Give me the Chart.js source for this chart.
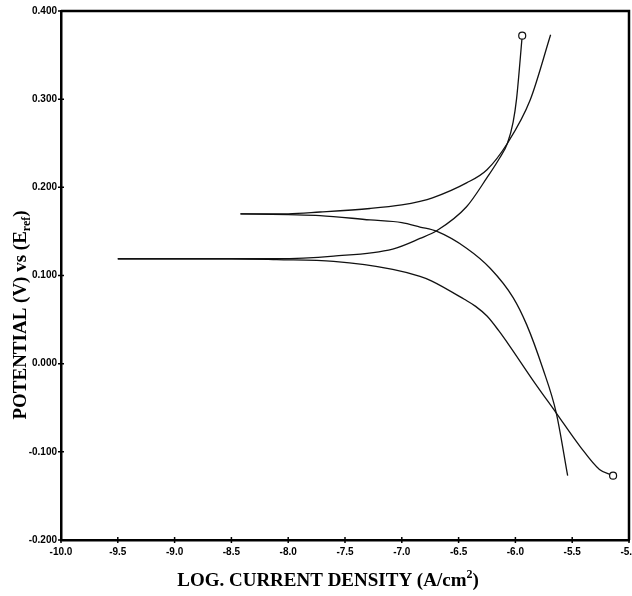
<!DOCTYPE html>
<html>
<head>
<meta charset="utf-8">
<title>Polarization curves</title>
<script src="https://cdn.jsdelivr.net/npm/chart.js@4.4.1/dist/chart.umd.min.js"></script>
<style>
  body { margin: 0; background: #fff; }
</style>
</head>
<body>
<canvas id="myChart" width="632" height="596"></canvas>
<script>
// Curve A, anodic branch (log i, potential)
const aAnodicX = [-9.50, -8.50, -8.10, -7.60, -7.08, -6.84, -6.69, -6.43, -6.25, -6.14, -6.07, -6.02, -5.99, -5.94];
const aAnodicY = [0.119, 0.119, 0.119, 0.122, 0.130, 0.142, 0.151, 0.178, 0.211, 0.233, 0.250, 0.274, 0.300, 0.372];
// Curve A, cathodic branch
const aCathodicX = [-9.50, -8.50, -8.10, -7.60, -7.08, -6.84, -6.74, -6.45, -6.35, -6.25, -6.15, -6.05, -5.85, -5.64, -5.43, -5.26, -5.14];
const aCathodicY = [0.119, 0.119, 0.118, 0.116, 0.107, 0.099, 0.094, 0.073, 0.065, 0.054, 0.038, 0.020, -0.018, -0.056, -0.094, -0.120, -0.127];
// Curve B, anodic branch
const bAnodicX = [-8.42, -8.00, -7.72, -7.28, -7.00, -6.84, -6.73, -6.43, -6.25, -6.07, -5.87, -5.69];
const bAnodicY = [0.170, 0.170, 0.172, 0.176, 0.180, 0.184, 0.188, 0.205, 0.220, 0.250, 0.299, 0.373];
// Curve B, cathodic branch
const bCathodicX = [-8.42, -8.00, -7.72, -7.28, -7.00, -6.84, -6.69, -6.43, -6.22, -6.02, -5.90, -5.76, -5.64, -5.54];
const bCathodicY = [0.170, 0.169, 0.168, 0.163, 0.160, 0.155, 0.150, 0.131, 0.108, 0.075, 0.044, -0.005, -0.056, -0.127];

// Tick labels on the axes
const xTicks = [-10.0, -9.5, -9.0, -8.5, -8.0, -7.5, -7.0, -6.5, -6.0, -5.5, -5.0];
const yTicks = [-0.200, -0.100, 0.000, 0.100, 0.200, 0.300, 0.400];

// turn two arrays into {x, y} points
function toPoints(xs, ys) {
  return xs.map((x, i) => ({ x: x, y: ys[i] }));
}

// open circle only on the last point of a branch
function endCircle(xs) {
  return xs.map((x, i) => (i === xs.length - 1 ? 3.5 : 0));
}

function branch(xs, ys, marker) {
  return {
    data: toPoints(xs, ys),
    showLine: true,
    borderColor: '#111',
    borderWidth: 1.3,
    cubicInterpolationMode: 'monotone',
    pointRadius: marker ? endCircle(xs) : 0,
    pointBackgroundColor: '#fff',
    pointBorderColor: '#111',
    pointBorderWidth: 1.2,
    pointHoverRadius: 0
  };
}

// frame, crossing tick marks and axis titles with sub/superscripts
const decorations = {
  id: 'decorations',
  afterDraw(chart) {
    const ctx = chart.ctx;
    const area = chart.chartArea;
    const xs = chart.scales.x;
    const ys = chart.scales.y;
    ctx.save();
    ctx.strokeStyle = '#000';
    // top and right side of the box
    ctx.lineWidth = 2.5;
    ctx.beginPath();
    ctx.moveTo(area.left, area.top);
    ctx.lineTo(area.right, area.top);
    ctx.lineTo(area.right, area.bottom);
    ctx.stroke();
    // small ticks crossing the axes
    ctx.lineWidth = 1.5;
    ctx.beginPath();
    xs.ticks.forEach(t => {
      const px = xs.getPixelForValue(t.value);
      ctx.moveTo(px, area.bottom - 3);
      ctx.lineTo(px, area.bottom + 3);
    });
    ys.ticks.forEach(t => {
      const py = ys.getPixelForValue(t.value);
      ctx.moveTo(area.left - 3, py);
      ctx.lineTo(area.left + 3, py);
    });
    ctx.stroke();

    ctx.fillStyle = '#000';
    ctx.textBaseline = 'alphabetic';
    const big = 'bold 19px "Liberation Serif", "Times New Roman", serif';
    const small = 'bold 12px "Liberation Serif", "Times New Roman", serif';

    // x title: LOG. CURRENT DENSITY (A/cm^2)
    const xParts = [['LOG. CURRENT DENSITY (A/cm', big, 0], ['2', small, -8], [')', big, 0]];
    let total = 0;
    xParts.forEach(p => { ctx.font = p[1]; total += ctx.measureText(p[0]).width; });
    let cx = 328 - total / 2;
    xParts.forEach(p => {
      ctx.font = p[1];
      ctx.textAlign = 'left';
      ctx.fillText(p[0], cx, 586 + p[2]);
      cx += ctx.measureText(p[0]).width;
    });

    // y title: POTENTIAL (V) vs (E_ref), rotated
    ctx.translate(26, 315);
    ctx.rotate(-Math.PI / 2);
    const yParts = [['POTENTIAL (V) vs (E', big, 0], ['ref', small, 4], [')', big, 0]];
    total = 0;
    yParts.forEach(p => { ctx.font = p[1]; total += ctx.measureText(p[0]).width; });
    cx = -total / 2;
    yParts.forEach(p => {
      ctx.font = p[1];
      ctx.textAlign = 'left';
      ctx.fillText(p[0], cx, p[2]);
      cx += ctx.measureText(p[0]).width;
    });
    ctx.restore();
  }
};

const tickFont = { family: '"Liberation Sans", Arial, sans-serif', size: 10, weight: 'bold' };

const myChart = document.getElementById('myChart');

let lineChart = new Chart(myChart, {
  type: 'scatter',
  data: {
    datasets: [
      branch(bAnodicX, bAnodicY, false),
      branch(bCathodicX, bCathodicY, false),
      branch(aAnodicX, aAnodicY, true),
      branch(aCathodicX, aCathodicY, true)
    ]
  },
  options: {
    responsive: false,
    animation: false,
    layout: { autoPadding: false, padding: { top: 11, right: 3, left: 0, bottom: 0 } },
    plugins: {
      legend: { display: false },
      tooltip: { enabled: false }
    },
    scales: {
      x: {
        type: 'linear',
        min: xTicks[0],
        max: xTicks[xTicks.length - 1],
        afterBuildTicks: scale => { scale.ticks = xTicks.map(v => ({ value: v })); },
        // fixed height, and no extra room for the end labels
        afterFit: scale => {
          scale.height = 56;
          scale.paddingLeft = 0;
          scale.paddingRight = 0;
        },
        grid: { display: false, drawTicks: false },
        border: { display: true, color: '#000', width: 2.5 },
        ticks: {
          color: '#000',
          font: tickFont,
          padding: 6,
          maxRotation: 0,
          callback: v => v.toFixed(1)
        }
      },
      y: {
        type: 'linear',
        min: yTicks[0],
        max: yTicks[yTicks.length - 1],
        afterBuildTicks: scale => { scale.ticks = yTicks.map(v => ({ value: v })); },
        afterFit: scale => {
          scale.width = 61;
          scale.paddingTop = 0;
          scale.paddingBottom = 0;
        },
        grid: { display: false, drawTicks: false },
        border: { display: true, color: '#000', width: 2.5 },
        ticks: {
          color: '#000',
          font: tickFont,
          padding: 4,
          callback: v => v.toFixed(3)
        }
      }
    }
  },
  plugins: [decorations]
});
</script>
</body>
</html>
